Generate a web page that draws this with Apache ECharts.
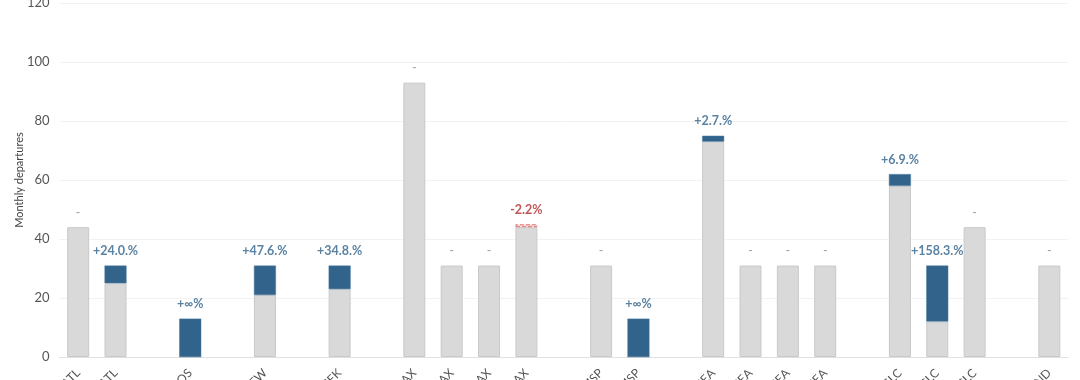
<!DOCTYPE html>
<html>
<head>
<meta charset="utf-8">
<script src="https://cdn.jsdelivr.net/npm/echarts@6/dist/echarts.min.js"></script>
<style>
html,body{margin:0;padding:0;background:#fff;}
#c{width:1080px;height:380px;}
</style>
</head>
<body>
<div id="c"></div>
<script>
// Categories (empty strings are spacer slots between airport groups)
const categories = ['ATL','ATL','','BOS','','DFW','','JFK','','LAX','LAX','LAX','LAX','','MSP','MSP','','SEA','SEA','SEA','SEA','','SLC','SLC','SLC','','IND'];
// Previous-period monthly departures
const previous = [44,25,null,0,null,21,null,23,null,93,31,31,45,null,31,0,null,73,31,31,31,null,58,12,44,null,31];
// Current-period monthly departures
const current  = [44,31,null,13,null,31,null,31,null,93,31,31,44,null,31,13,null,75,31,31,31,null,62,31,44,null,31];
const yTicks = [0,20,40,60,80,100,120];

const baseVals = [], incVals = [], decVals = [], labelPoints = [];
for (let i = 0; i < categories.length; i++) {
  const p = previous[i], c = current[i];
  if (p === null || c === null) { baseVals.push(null); incVals.push(null); decVals.push(null); labelPoints.push(null); continue; }
  baseVals.push(Math.min(p, c));
  incVals.push(c > p ? c - p : null);
  decVals.push(c < p ? p - c : null);
  let txt, col = '#31638b', fw = 'bold';
  if (c === p) { txt = '-'; col = '#888'; fw = 'normal'; }
  else if (p === 0) txt = '+\u221e%';
  else {
    const pct = (c / p - 1) * 100;
    if (pct > 0) txt = '+' + pct.toFixed(1) + '.%';
    else { txt = pct.toFixed(1) + '%'; col = '#b22a2a'; }
  }
  labelPoints.push({value: Math.max(p, c), label: {formatter: txt, color: col, fontWeight: fw}});
}

const chart = echarts.init(document.getElementById('c'), null, {renderer: 'canvas'});
const FONT = 'Lato, "Noto Sans", sans-serif';
chart.setOption({
  animation: false,
  textStyle: {fontFamily: FONT},
  grid: {left: 59.5, right: 12, top: 3, bottom: 23, containLabel: false, outerBoundsMode: 'none'},
  xAxis: {
    type: 'category',
    data: categories,
    axisTick: {show: false},
    axisLine: {lineStyle: {color: '#e0e0e0'}},
    axisLabel: {interval: 0, rotate: 45, color: '#555', fontSize: 12, margin: 14, fontFamily: FONT}
  },
  yAxis: {
    type: 'value',
    min: yTicks[0], max: yTicks[yTicks.length - 1], interval: 20,
    name: 'Monthly departures',
    nameLocation: 'middle',
    nameGap: 35,
    nameMoveOverlap: false,
    nameTextStyle: {color: '#444', fontSize: 11, fontFamily: FONT},
    axisLabel: {color: '#555', fontSize: 13, margin: 10, fontFamily: FONT},
    axisLine: {show: false},
    axisTick: {show: false},
    splitLine: {lineStyle: {color: '#f2f2f2'}}
  },
  series: [
    {
      type: 'bar', stack: 'a', data: baseVals, barWidth: 22,
      itemStyle: {color: '#d9d9d9', borderColor: '#c9c9c9', borderWidth: 1}
    },
    {
      type: 'bar', stack: 'a', data: incVals, barWidth: 22,
      itemStyle: {color: '#31638b', borderColor: '#4a7aa0', borderWidth: 0.5}
    },
    {
      type: 'bar', stack: 'a', data: decVals, barWidth: 22,
      itemStyle: {color: '#f7d3d3', borderColor: '#e27474', borderWidth: 1, borderType: 'dashed'}
    },
    {
      type: 'scatter', data: labelPoints, symbolSize: 0, silent: true,
      label: {show: true, position: 'top', distance: 8, fontFamily: FONT, fontSize: 12.5}
    }
  ]
});
</script>
</body>
</html>
